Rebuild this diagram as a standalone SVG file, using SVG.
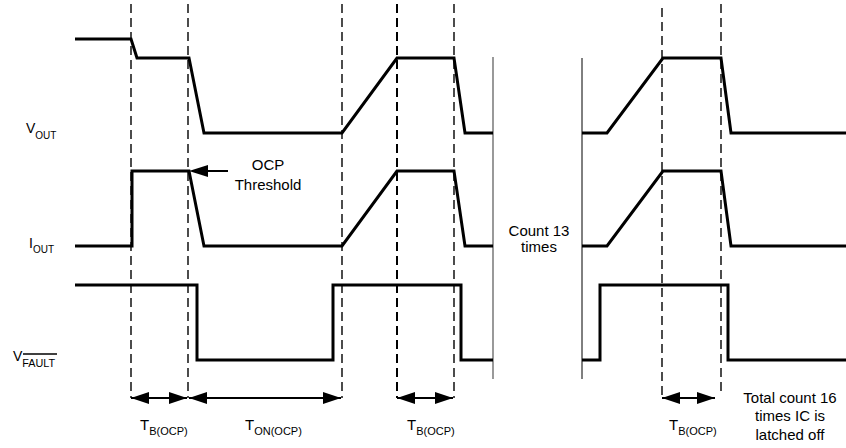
<svg xmlns="http://www.w3.org/2000/svg" width="846" height="448" viewBox="0 0 846 448">
  <defs>
    <marker id="ah" markerUnits="userSpaceOnUse" markerWidth="19" markerHeight="12" refX="18" refY="6" orient="auto-start-reverse">
      <path d="M0,0 L18,6 L0,12 z" fill="#000"/>
    </marker>
  </defs>
  <style>
    .wave { fill: none; stroke: #000; stroke-width: 3; stroke-linejoin: miter; }
    .dash { fill: none; stroke: #000; stroke-width: 1.4; stroke-dasharray: 9 5; }
    .dim { fill: none; stroke: #000; stroke-width: 2; marker-start: url(#ah); marker-end: url(#ah); }
    .txt { font-family: "Liberation Sans", Arial, sans-serif; fill: #000; }
    .lbl { font-size: 15px; }
    .sig { font-size: 14px; }
  </style>
  <rect width="846" height="448" fill="#fff"/>

  <g id="timing-guides">
    <line class="dash" x1="131" y1="4" x2="131" y2="398"/>
    <line class="dash" x1="188" y1="4" x2="188" y2="398"/>
    <line class="dash" x1="342" y1="4" x2="342" y2="398"/>
    <line class="dash" x1="397" y1="4" x2="397" y2="398" style="stroke-width:2"/>
    <line class="dash" x1="454" y1="4" x2="454" y2="398"/>
    <line class="dash" x1="662" y1="8" x2="662" y2="398"/>
    <line class="dash" x1="721" y1="4" x2="721" y2="392"/>
  </g>

  <g id="separators">
    <line x1="493" y1="57" x2="493" y2="379" stroke="#808080" stroke-width="1.6"/>
    <line x1="582" y1="58" x2="582" y2="379" stroke="#000" stroke-width="1"/>
  </g>

  <g id="vout">
    <polyline class="wave" points="75,39 131,39 137,58 189,58 204,133 342,133 397,58 454,58 465,133 493,133"/>
    <polyline class="wave" points="582,133 607,133 663,58 721,58 731,133 846,133"/>
    <text class="txt sig" x="26" y="133">V<tspan font-size="10" dy="6">OUT</tspan></text>
  </g>

  <g id="iout">
    <polyline class="wave" points="75,246 132,246 132,171 189,171 204,246 342,246 397,171 454,171 465,246 493,246"/>
    <polyline class="wave" points="582,246 607,246 663,171 721,171 731,246 846,246"/>
    <text class="txt sig" x="29" y="248">I<tspan font-size="10" dy="5">OUT</tspan></text>
  </g>

  <g id="vfault">
    <polyline class="wave" points="75,285 197,285 197,360 333,360 333,285 461,285 461,360 493,360"/>
    <polyline class="wave" points="582,360 600,360 600,285 728,285 728,360 846,360"/>
    <text class="txt sig" x="13" y="361">V<tspan font-size="10.8" dy="6">FAULT</tspan></text>
    <line x1="23" y1="354" x2="57" y2="354" stroke="#000" stroke-width="1.5"/>
  </g>

  <g id="ocp-threshold">
    <line x1="228" y1="171" x2="208" y2="171" stroke="#000" stroke-width="2"/>
    <path d="M189,171 L208,165 L208,177 z" fill="#000"/>
    <text class="txt lbl" x="268" y="170" text-anchor="middle">OCP</text>
    <text class="txt lbl" x="268" y="190" text-anchor="middle">Threshold</text>
  </g>

  <g id="count13">
    <text class="txt lbl" x="539" y="236" text-anchor="middle">Count 13</text>
    <text class="txt lbl" x="539" y="252" text-anchor="middle">times</text>
  </g>

  <g id="connectors">
    <line class="dim" x1="131" y1="398" x2="187" y2="398"/>
    <line class="dim" x1="189" y1="398" x2="341" y2="398"/>
    <line class="dim" x1="397" y1="398" x2="453" y2="398"/>
    <line class="dim" x1="662" y1="398" x2="715" y2="398"/>
  </g>

  <g id="durations">
    <text class="txt lbl" x="140" y="430">T<tspan font-size="11" dy="5">B(OCP)</tspan></text>
    <text class="txt lbl" x="245" y="430">T<tspan font-size="11" dy="5">ON(OCP)</tspan></text>
    <text class="txt lbl" x="407" y="430">T<tspan font-size="11" dy="5">B(OCP)</tspan></text>
    <text class="txt lbl" x="669" y="430">T<tspan font-size="11" dy="5">B(OCP)</tspan></text>
  </g>

  <g id="latched-note">
    <text class="txt lbl" x="790" y="403" text-anchor="middle">Total count 16</text>
    <text class="txt lbl" x="790" y="421" text-anchor="middle">times IC is</text>
    <text class="txt lbl" x="790" y="440" text-anchor="middle">latched off</text>
  </g>
</svg>
